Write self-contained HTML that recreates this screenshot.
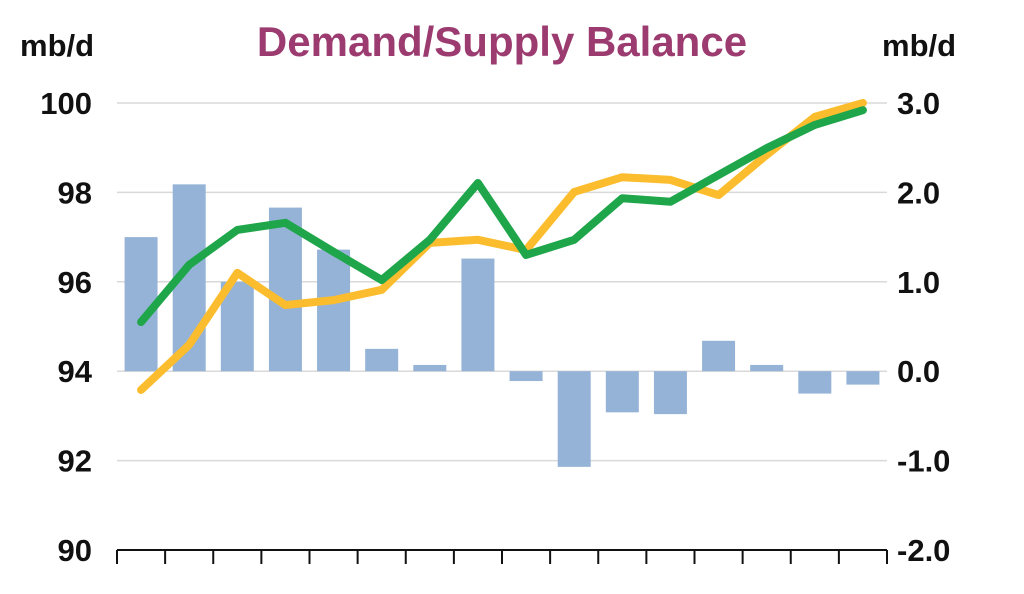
<!DOCTYPE html>
<html><head><meta charset="utf-8"><style>
body{margin:0;background:#fff;}
svg text{font-family:"Liberation Sans",Arial,sans-serif;font-weight:bold;}
</style></head><body>
<svg width="1024" height="589" viewBox="0 0 1024 589">
<text x="20" y="56" font-size="31" fill="#111">mb/d</text>
<text x="882" y="56" font-size="31" fill="#111">mb/d</text>
<text x="502" y="56" font-size="42" fill="#9c3b6f" text-anchor="middle">Demand/Supply Balance</text>
<g id="grid"></g><g id="bars"></g><g id="lines"></g><g id="axes"></g>
</svg>
<script>
const categories=["1","2","3","4","5","6","7","8","9","10","11","12","13","14","15","16"];
const balance=[1.50,2.09,1.0,1.83,1.36,0.25,0.07,1.26,-0.11,-1.07,-0.46,-0.48,0.34,0.07,-0.25,-0.15];
const demand=[93.58,94.59,96.2,95.48,95.59,95.82,96.87,96.94,96.71,98.01,98.34,98.28,97.94,98.84,99.69,100];
const supply=[95.1,96.38,97.16,97.32,96.67,96.04,96.94,98.21,96.6,96.94,97.87,97.79,98.39,98.99,99.51,99.84];
const leftTicks=[90,92,94,96,98,100];
const rightTicks=["-2.0","-1.0","0.0","1.0","2.0","3.0"];
const NS="http://www.w3.org/2000/svg";
const x0=117,x1=887,yTop=103,yBot=550;
const step=(x1-x0)/categories.length;
const xc=i=>x0+step*(i+0.5);
const yL=v=>yBot-(v-90)/10*(yBot-yTop);
const yR=v=>yBot-(v+2)/5*(yBot-yTop);
function mk(t,a,p){const e=document.createElementNS(NS,t);for(const k in a)e.setAttribute(k,a[k]);p.appendChild(e);return e;}
const grid=document.getElementById('grid'),bars=document.getElementById('bars'),lines=document.getElementById('lines'),axes=document.getElementById('axes');
leftTicks.forEach((v,i)=>{
  const y=yL(v);
  if(i>0){const g=mk('line',{x1:x0,x2:x1,y1:y,y2:y,stroke:'#d9d9d9','stroke-width':1.5},grid);
  
  }
  const t=mk('text',{x:92,y:y+11,'font-size':31,'text-anchor':'end',fill:'#111'},axes);t.textContent=v;
  
  
  const r=mk('text',{x:897,y:y+11,'font-size':31,fill:'#111'},axes);r.textContent=rightTicks[i];
  
  
});
balance.forEach((v,i)=>{
  const y0=yR(0),y=yR(v);
  const b=mk('rect',{x:xc(i)-16.5,y:Math.min(y,y0),width:33,height:Math.abs(y-y0),fill:'#95b3d7'},bars);
  
  
});
function line(d,c,n){const p=mk('polyline',{points:d.map((v,i)=>xc(i)+','+yL(v)).join(' '),fill:'none',stroke:c,'stroke-width':8,'stroke-linejoin':'round','stroke-linecap':'round'},lines);
  
  }
line(demand,'#fbbd2e','demand-line');
line(supply,'#1fa64a','supply-line');
const ax=mk('line',{x1:x0,x2:x1,y1:yBot,y2:yBot,stroke:'#111','stroke-width':2},axes);


for(let i=0;i<=categories.length;i++){const x=x0+step*i;const t=mk('line',{x1:x,x2:x,y1:yBot,y2:yBot+14,stroke:'#111','stroke-width':2},axes);
  
  }
</script>
</body></html>
